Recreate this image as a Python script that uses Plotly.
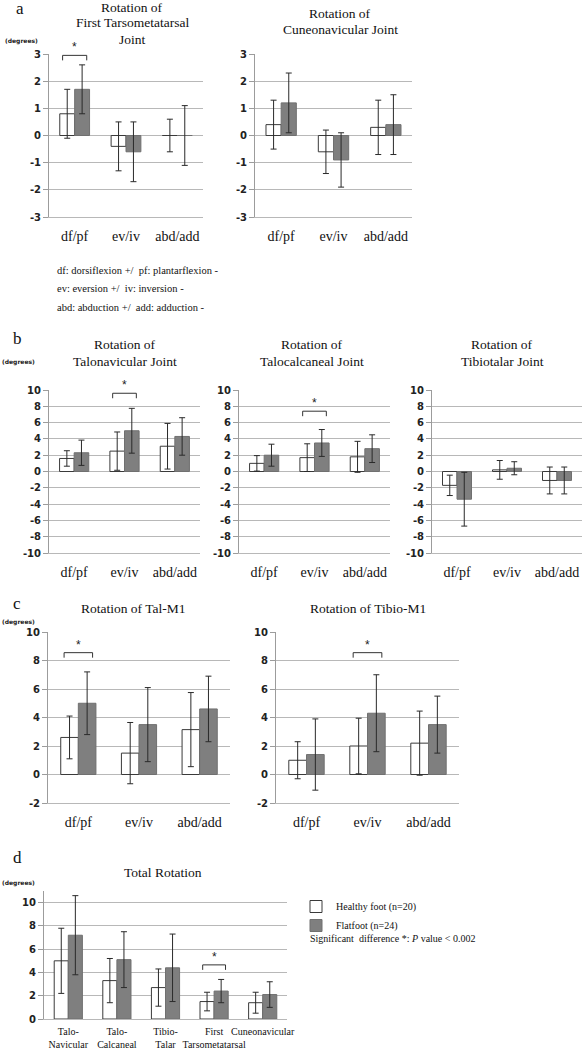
import plotly.graph_objects as go

W, H = 583, 1050

# ---------------- data ----------------
motions = ["df/pf", "ev/iv", "abd/add"]
joints_total = ["Talo-<br>Navicular", "Talo-<br>Calcaneal", "Tibio-<br>Talar",
                "First<br>Tarsometatarsal", "Cuneonavicular"]

ftm_healthy = [0.8, -0.4, 0.0]
ftm_healthy_sd = [0.9, 0.9, 0.6]
ftm_flat = [1.7, -0.6, 0.0]
ftm_flat_sd = [0.9, 1.1, 1.1]

cn_healthy = [0.4, -0.6, 0.3]
cn_healthy_sd = [0.9, 0.8, 1.0]
cn_flat = [1.2, -0.9, 0.4]
cn_flat_sd = [1.1, 1.0, 1.1]

tn_healthy = [1.6, 2.5, 3.1]
tn_healthy_sd = [0.95, 2.35, 2.8]
tn_flat = [2.3, 5.0, 4.3]
tn_flat_sd = [1.55, 2.75, 2.3]

tc_healthy = [1.0, 1.7, 1.8]
tc_healthy_sd = [0.95, 1.7, 1.9]
tc_flat = [2.0, 3.5, 2.8]
tc_flat_sd = [1.35, 1.65, 1.7]

tt_healthy = [-1.7, 0.2, -1.1]
tt_healthy_sd = [1.25, 1.15, 1.65]
tt_flat = [-3.4, 0.4, -1.1]
tt_flat_sd = [3.3, 0.8, 1.65]

talm1_healthy = [2.6, 1.5, 3.15]
talm1_healthy_sd = [1.5, 2.15, 2.6]
talm1_flat = [5.0, 3.5, 4.6]
talm1_flat_sd = [2.2, 2.6, 2.3]

tibm1_healthy = [1.0, 2.0, 2.2]
tibm1_healthy_sd = [1.3, 1.95, 2.25]
tibm1_flat = [1.4, 4.3, 3.5]
tibm1_flat_sd = [2.5, 2.7, 2.0]

total_healthy = [5.0, 3.3, 2.7, 1.5, 1.4]
total_healthy_sd = [2.8, 1.9, 1.6, 0.8, 0.9]
total_flat = [7.2, 5.1, 4.4, 2.4, 2.1]
total_flat_sd = [3.4, 2.4, 2.9, 1.0, 1.1]

group_names = ["Healthy foot (n=20)", "Flatfoot (n=24)"]

# significance: (panel index, category index, bracket value)
sig_panel = [0, 2, 3, 5, 6, 7]
sig_cat = [0, 1, 1, 0, 1, 3]
sig_level = [2.95, 9.6, 7.4, 8.55, 8.55, 4.65]

# ---------------- layout helpers ----------------
def xd(l, r):
    return [l / W, r / W]

def yd(t, b):
    return [1 - b / H, 1 - t / H]

panels = [
    dict(cats=motions, h=ftm_healthy, hs=ftm_healthy_sd, f=ftm_flat, fs=ftm_flat_sd,
         x=(49, 203), y=(54, 217), rng=(-3, 3), dt=1,
         title=["Rotation of", "First Tarsometatarsal", "Joint"], tx=132, ty=7),
    dict(cats=motions, h=cn_healthy, hs=cn_healthy_sd, f=cn_flat, fs=cn_flat_sd,
         x=(255, 412), y=(54, 217), rng=(-3, 3), dt=1,
         title=["Rotation of", "Cuneonavicular Joint"], tx=340, ty=13),
    dict(cats=motions, h=tn_healthy, hs=tn_healthy_sd, f=tn_flat, fs=tn_flat_sd,
         x=(49, 200), y=(390, 553), rng=(-10, 10), dt=2,
         title=["Rotation of", "Talonavicular Joint"], tx=125, ty=345),
    dict(cats=motions, h=tc_healthy, hs=tc_healthy_sd, f=tc_flat, fs=tc_flat_sd,
         x=(239, 390), y=(390, 553), rng=(-10, 10), dt=2,
         title=["Rotation of", "Talocalcaneal Joint"], tx=312, ty=345),
    dict(cats=motions, h=tt_healthy, hs=tt_healthy_sd, f=tt_flat, fs=tt_flat_sd,
         x=(432, 582), y=(390, 553), rng=(-10, 10), dt=2,
         title=["Rotation of", "Tibiotalar Joint"], tx=502, ty=345),
    dict(cats=motions, h=talm1_healthy, hs=talm1_healthy_sd, f=talm1_flat, fs=talm1_flat_sd,
         x=(48, 230), y=(632, 803), rng=(-2, 10), dt=2,
         title=["Rotation of Tal-M1"], tx=133, ty=608),
    dict(cats=motions, h=tibm1_healthy, hs=tibm1_healthy_sd, f=tibm1_flat, fs=tibm1_flat_sd,
         x=(276, 459), y=(632, 803), rng=(-2, 10), dt=2,
         title=["Rotation of Tibio-M1"], tx=368, ty=608),
    dict(cats=joints_total, h=total_healthy, hs=total_healthy_sd, f=total_flat, fs=total_flat_sd,
         x=(44, 287), y=(891, 1019), rng=(0, 11), dt=2,
         title=["Total Rotation"], tx=163, ty=872),
]

GRID = "#b8b8b8"
AXIS = "#9c9c9c"
SERIF = "Liberation Serif, Times New Roman, serif"
SANS = "DejaVu Sans, Verdana, sans-serif"

fig = go.Figure()
layout = dict(
    template="none",
    width=W, height=H, margin=dict(l=0, r=0, t=0, b=0, autoexpand=False),
    paper_bgcolor="white", plot_bgcolor="white",
    barmode="group", bargap=0.42, bargroupgap=0,
    showlegend=True,
)
annotations = []
shapes = []

for i, p in enumerate(panels):
    sfx = "" if i == 0 else str(i + 1)
    xa, ya = "x" + sfx, "y" + sfx
    last = i == len(panels) - 1
    fig.add_trace(go.Bar(
        x=p["cats"], y=p["h"], name=group_names[0], xaxis=xa, yaxis=ya,
        marker=dict(color="white", line=dict(color="#3a3a3a", width=1)),
        error_y=dict(type="data", array=p["hs"], color="#2a2a2a", thickness=1, width=3),
        showlegend=last, legendrank=1))
    fig.add_trace(go.Bar(
        x=p["cats"], y=p["f"], name=group_names[1], xaxis=xa, yaxis=ya,
        marker=dict(color="#7f7f7f", line=dict(color="#707070", width=1)),
        error_y=dict(type="data", array=p["fs"], color="#2a2a2a", thickness=1, width=3),
        showlegend=last, legendrank=2))
    tv = list(range(p["rng"][0], p["rng"][1] + 1, p["dt"]))
    layout["xaxis" + sfx] = dict(
        domain=xd(*p["x"]), anchor=ya, type="category",
        range=[-0.5, len(p["cats"]) - 0.5], automargin=False, tickangle=0,
        showgrid=False, zeroline=False, showline=True, linecolor=GRID, linewidth=1,
        ticks="", ticklabelstandoff=6 if not last else 3,
        tickfont=dict(family=SERIF, size=14 if not last else 10, color="#111"),
        fixedrange=True)
    layout["yaxis" + sfx] = dict(
        domain=yd(*p["y"]), anchor=xa, range=list(p["rng"]),
        tickmode="array", tickvals=tv, ticktext=[str(v) for v in tv],
        automargin=False,
        showgrid=True, gridcolor=GRID, gridwidth=1, zeroline=False,
        showline=True, linecolor=AXIS, linewidth=1,
        ticks="outside", ticklen=5, tickcolor=AXIS,
        tickfont=dict(family=SANS, size=10, color="#222", weight="bold"),
        fixedrange=True)
    for k, line in enumerate(p["title"]):
        annotations.append(dict(
            xref="paper", yref="paper", x=p["tx"] / W, y=1 - (p["ty"] + 16 * k) / H,
            xanchor="center", yanchor="middle", showarrow=False, text=line,
            font=dict(family=SERIF, size=13.5, color="#111")))

# significance brackets
for pi, ci, lv in zip(sig_panel, sig_cat, sig_level):
    p = panels[pi]
    sfx = "" if pi == 0 else str(pi + 1)
    px_h = p["y"][1] - p["y"][0]
    unit_per_px = (p["rng"][1] - p["rng"][0]) / px_h
    leg = 5 * unit_per_px
    x0, x1 = ci - 0.235, ci + 0.235
    path = f"M {x0},{lv - leg} L {x0},{lv} L {x1},{lv} L {x1},{lv - leg}"
    shapes.append(dict(type="path", path=path, xref="x" + sfx, yref="y" + sfx,
                       line=dict(color="#333", width=1)))
    annotations.append(dict(x=ci, y=lv, xref="x" + sfx, yref="y" + sfx,
                            text="*", showarrow=False, yanchor="bottom", yshift=-1,
                            font=dict(family="Liberation Sans, Arial, sans-serif",
                                      size=12, color="#222")))

# panel letters
for letter, (lx, ly) in zip(["a", "b", "c", "d"], [(20, 9), (17, 338), (17, 603), (17, 857)]):
    annotations.append(dict(xref="paper", yref="paper", x=lx / W, y=1 - ly / H,
                            text=letter, showarrow=False, xanchor="center", yanchor="middle",
                            font=dict(family=SERIF, size=17, color="#111")))

# (degrees) units
for ux, uy in [(21, 41), (18, 362), (18, 622), (18, 883)]:
    annotations.append(dict(xref="paper", yref="paper", x=ux / W, y=1 - uy / H,
                            text="(degrees)", showarrow=False, xanchor="center", yanchor="middle",
                            font=dict(family=SANS, size=6, color="#222", weight="bold")))

# abbreviations note
notes = ["df: dorsiflexion +/  pf: plantarflexion -",
         "ev: eversion +/  iv: inversion -",
         "abd: abduction +/  add: adduction -"]
for k, t in enumerate(notes):
    annotations.append(dict(xref="paper", yref="paper", x=55 / W, y=1 - (270 + 18.5 * k) / H,
                            text=t, showarrow=False, xanchor="left", yanchor="middle",
                            font=dict(family=SERIF, size=10.5, color="#111")))

annotations.append(dict(xref="paper", yref="paper", x=308 / W, y=1 - 938 / H,
                        text="Significant  difference *: <i>P</i> value &lt; 0.002",
                        showarrow=False, xanchor="left", yanchor="middle",
                        font=dict(family=SERIF, size=10, color="#111")))

layout["legend"] = dict(x=296 / W, y=1 - 892 / H, xanchor="left", yanchor="top",
                        font=dict(family=SERIF, size=10, color="#111"),
                        bgcolor="rgba(0,0,0,0)", tracegroupgap=0, itemwidth=30)
layout["annotations"] = annotations
layout["shapes"] = shapes
fig.update_layout(**layout)

fig.write_html(
    "out.html",
    config={"displayModeBar": False},
    post_script="document.body.style.margin='0';document.body.style.overflow='hidden';",
)
